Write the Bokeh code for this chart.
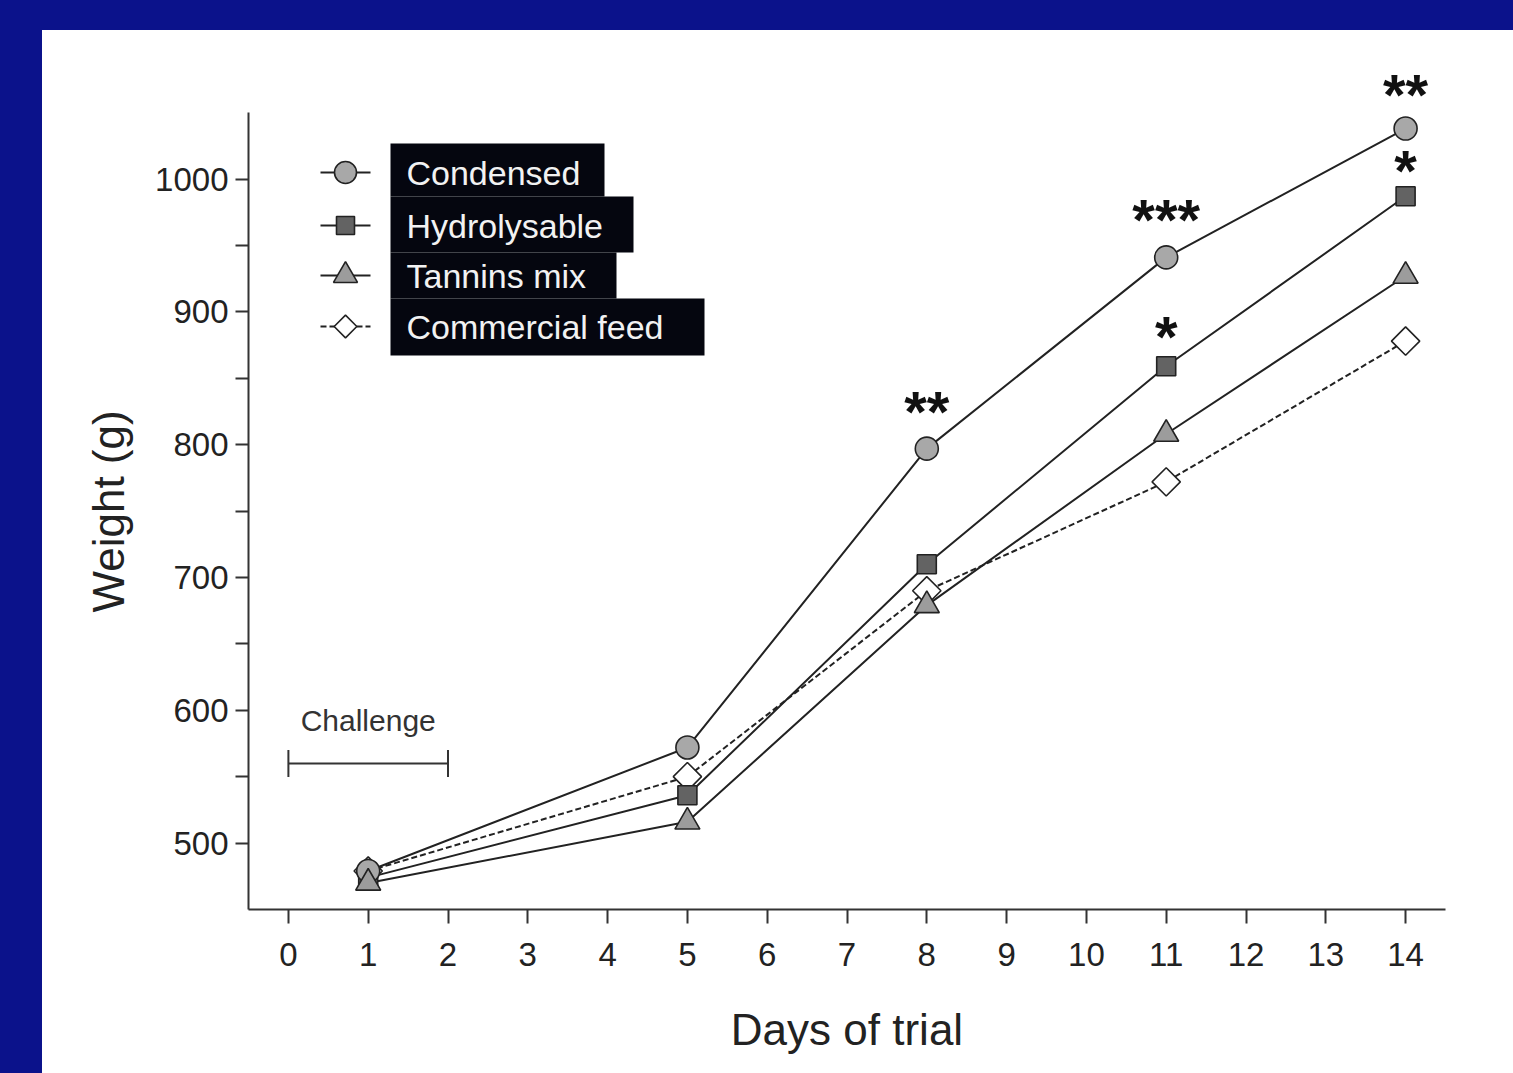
from bokeh.plotting import figure
from bokeh.models import (FixedTicker, Range1d, LabelSet, ColumnDataSource, Title)
from bokeh.layouts import column
from bokeh.embed import file_html
from bokeh.resources import INLINE
from bokeh.core.properties import value

# ---- data ----
days = [1, 5, 8, 11, 14]
condensed = [479, 572, 797, 941, 1038]
hydrolysable = [474, 536, 710, 859, 987]
tannins_mix = [470, 516, 679, 808, 927]
commercial_feed = [479, 550, 690, 772, 878]

series_names = ["Condensed", "Hydrolysable", "Tannins mix", "Commercial feed"]
x_ticks = list(range(0, 15))
y_ticks = [500, 600, 700, 800, 900, 1000]
y_minor = [550, 650, 750, 850, 950]

star_days = [8, 11, 11, 14, 14]
star_series = ["Condensed", "Condensed", "Hydrolysable", "Condensed", "Hydrolysable"]
star_text = ["**", "***", "*", "**", "*"]

challenge_start = 0
challenge_end = 2
challenge_level = 560
challenge_label = "Challenge"

# ---- styles ----
BLUE = "#0b128b"
INK = "#222222"
FONT = "Liberation Sans"
star_dy = [37, 38, 30, 34, 26]

styles = {
    "Condensed": dict(marker="circle", size=23, lsize=22, fill="#a8a8a8", dash="solid", angle=0.0),
    "Hydrolysable": dict(marker="square", size=19, lsize=18, fill="#636363", dash="solid", angle=0.0),
    "Tannins mix": dict(marker="triangle", size=25, lsize=24, fill="#9c9c9c", dash="solid", angle=0.0),
    "Commercial feed": dict(marker="square", size=20, lsize=16, fill="white", dash="6 3", angle=0.785398),
}
values_by_name = dict(zip(series_names, [condensed, hydrolysable, tannins_mix, commercial_feed]))

# y range extends above the drawn axis (bounds) so the top stars are not clipped
Y_LO, Y_AXIS_TOP, Y_HI = 450, 1050, 1090
FRAME_W, FRAME_H = 1197, 850
p = figure(width=1471, height=1043, output_backend="svg", toolbar_location=None,
           x_range=Range1d(-0.5, 14.5), y_range=Range1d(Y_LO, Y_HI),
           min_border_left=206, min_border_right=68, min_border_top=29, min_border_bottom=164,
           background_fill_color="white", border_fill_color="white",
           outline_line_color=None, margin=(30, 0, 0, 42),
           styles={"background-color": "white"})
# pixel coordinates measured from where the axis top sits
p.extra_x_ranges = {"px": Range1d(0, FRAME_W)}
p.extra_y_ranges = {"px": Range1d(797, 797 - FRAME_H)}
p.grid.visible = False

# axes
for ax in (p.xaxis[0], p.yaxis[0]):
    ax.axis_line_color = "#333333"
    ax.axis_line_width = 2
    ax.major_tick_line_color = "#333333"
    ax.major_tick_line_width = 2
    ax.minor_tick_line_color = "#333333"
    ax.minor_tick_line_width = 2
    ax.major_tick_in = 0
    ax.minor_tick_in = 0
    ax.major_label_text_font = FONT
    ax.major_label_text_font_size = "33px"
    ax.major_label_text_color = INK
    ax.axis_label_text_font = FONT
    ax.axis_label_text_font_size = "44px"
    ax.axis_label_text_font_style = "normal"
    ax.axis_label_text_color = INK

p.xaxis.ticker = FixedTicker(ticks=x_ticks)
p.xaxis.major_tick_out = 14
p.xaxis.minor_tick_out = 0
p.xaxis.major_label_standoff = 19
p.xaxis.axis_label = "Days of trial"
p.xaxis.axis_label_standoff = 36

p.yaxis.ticker = FixedTicker(ticks=y_ticks, minor_ticks=y_minor)
p.yaxis.bounds = (Y_LO, Y_AXIS_TOP)
p.yaxis.major_tick_out = 13
p.yaxis.minor_tick_out = 13
p.yaxis.major_label_standoff = 7

# y axis title, placed along the drawn axis rather than the taller frame
p.add_layout(Title(text="Weight (g)", align="left", offset=297, standoff=40,
                   text_font=FONT, text_font_size="44px", text_font_style="normal",
                   text_color=INK), "left")

# series lines then markers
for name in series_names:
    st = styles[name]
    p.line(days, values_by_name[name], line_color=INK, line_width=2, line_dash=st["dash"])
for name in ["Commercial feed", "Hydrolysable", "Condensed", "Tannins mix"]:
    st = styles[name]
    p.scatter(days, values_by_name[name], marker=st["marker"], size=st["size"],
              angle=st["angle"], fill_color=st["fill"], line_color=INK, line_width=1.6)

# significance stars
star_y = [values_by_name[s][days.index(d)] for d, s in zip(star_days, star_series)]
star_src = ColumnDataSource(dict(x=star_days, y=star_y, t=star_text, dy=star_dy))
p.add_layout(LabelSet(x="x", y="y", text="t", y_offset="dy", source=star_src,
                      text_font=value(FONT), text_font_size="58px", text_font_style="bold",
                      text_color="#111111", text_align="center", text_baseline="middle"))

# challenge bracket
p.segment(x0=[challenge_start], y0=[challenge_level], x1=[challenge_end], y1=[challenge_level],
          line_color="#333333", line_width=2)
p.scatter(x=[challenge_start, challenge_end], y=[challenge_level, challenge_level],
          marker="dash", angle=1.5708, size=27, line_color="#333333", line_width=2)
p.text(x=[(challenge_start + challenge_end) / 2], y=[challenge_level], text=[challenge_label],
       y_offset=-43, text_font=value(FONT), text_font_size="30px", text_color="#333333",
       text_align="center", text_baseline="alphabetic")

# legend drawn in frame pixel coordinates
leg_rows = [60, 113, 163, 214]
leg_box_top = [31, 84, 140, 186]
leg_box_bottom = [84, 140, 186, 243]
leg_box_right = [356, 385, 368, 456]
p.quad(left=[142] * 4, right=leg_box_right, top=leg_box_top, bottom=leg_box_bottom,
       fill_color="#05060f", line_color=None, x_range_name="px", y_range_name="px")
for name, yy in zip(series_names, leg_rows):
    st = styles[name]
    p.segment(x0=[72], y0=[yy], x1=[122], y1=[yy], line_color=INK, line_width=2,
              line_dash=st["dash"], x_range_name="px", y_range_name="px")
    p.scatter(x=[97], y=[yy], marker=st["marker"], size=st["lsize"], angle=st["angle"],
              fill_color=st["fill"], line_color=INK, line_width=1.6,
              x_range_name="px", y_range_name="px")
p.text(x=[158] * 4, y=leg_rows, text=series_names, x_range_name="px", y_range_name="px",
       text_font=value(FONT), text_font_size="34px", text_color="#f2f2f2",
       text_align="left", text_baseline="middle")

layout = column(p, styles={"background-color": BLUE})
open("out.html", "w").write(file_html(layout, INLINE))
